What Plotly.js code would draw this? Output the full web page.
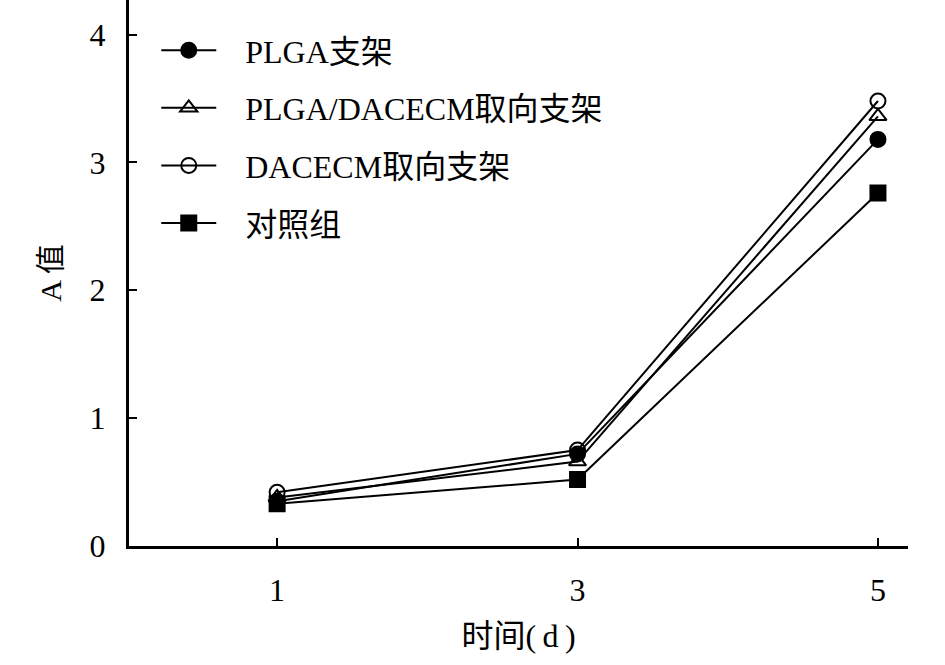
<!DOCTYPE html>
<html><head><meta charset="utf-8">
<script src="https://cdn.plot.ly/plotly-3.0.1.min.js"></script>
<style>body{margin:0;background:#fff}#chart{width:945px;height:665px}</style>
</head><body><div id="chart"></div>
<script>
const days = [1, 3, 5];
const seriesNames = ["PLGA支架", "PLGA/DACECM取向支架", "DACECM取向支架", "对照组"];
const plgaValues = [0.35, 0.72, 3.18];
const plgaDacecmValues = [0.38, 0.66, 3.36];
const dacecmValues = [0.42, 0.75, 3.48];
const controlValues = [0.33, 0.52, 2.76];
const xTickLabels = ["1", "3", "5"];
const yTickVals = [0, 1, 2, 3, 4];

const FONT = "'Liberation Serif', 'Times New Roman', 'Noto Sans CJK SC', serif";
const symbols = ["circle", "triangle-up-open", "circle-open", "square"];
const allValues = [plgaValues, plgaDacecmValues, dacecmValues, controlValues];
const PAD = "\u00a0\u00a0\u00a0";

const traces = allValues.map((vals, i) => ({
  x: days, y: vals, name: PAD + seriesNames[i], type: "scatter", mode: "lines+markers",
  legendgroup: "g" + i,
  line: {color: "#000", width: 2},
  marker: {symbol: symbols[i], size: 15, color: "#000", line: {color: "#000", width: 2}}
}));

const layout = {
  width: 945, height: 665,
  margin: {l: 129, r: 37, t: 0, b: 119},
  paper_bgcolor: "#fff", plot_bgcolor: "#fff",
  font: {family: FONT, size: 30, color: "#000"},
  showlegend: true,
  legend: {x: 0.035, y: 0.958, xanchor: "left", yanchor: "top", bgcolor: "rgba(0,0,0,0)",
           font: {family: FONT, size: 32, color: "#000"}, tracegroupgap: 13, itemwidth: 55},
  xaxis: {range: [0.014, 5.2], tickvals: days, ticktext: xTickLabels, ticks: "inside", ticklen: 8,
          tickwidth: 2, tickcolor: "#000", showline: true, linecolor: "#000", linewidth: 3,
          showgrid: false, zeroline: false, ticklabelstandoff: 14,
          tickfont: {family: FONT, size: 32},
          title: {text: "时间(\u2009d\u2009)", font: {family: FONT, size: 32}, standoff: 18}},
  yaxis: {range: [0, 4.27], tickvals: yTickVals, ticks: "inside", ticklen: 8,
          tickwidth: 2, tickcolor: "#000", showline: true, linecolor: "#000", linewidth: 3,
          showgrid: false, zeroline: false, ticklabelstandoff: 14,
          tickfont: {family: FONT, size: 32},
          title: {text: "A 值", font: {family: FONT, size: 30}, standoff: 20}}
};

Plotly.newPlot("chart", traces, layout, {displayModeBar: false, staticPlot: true});
</script></body></html>
